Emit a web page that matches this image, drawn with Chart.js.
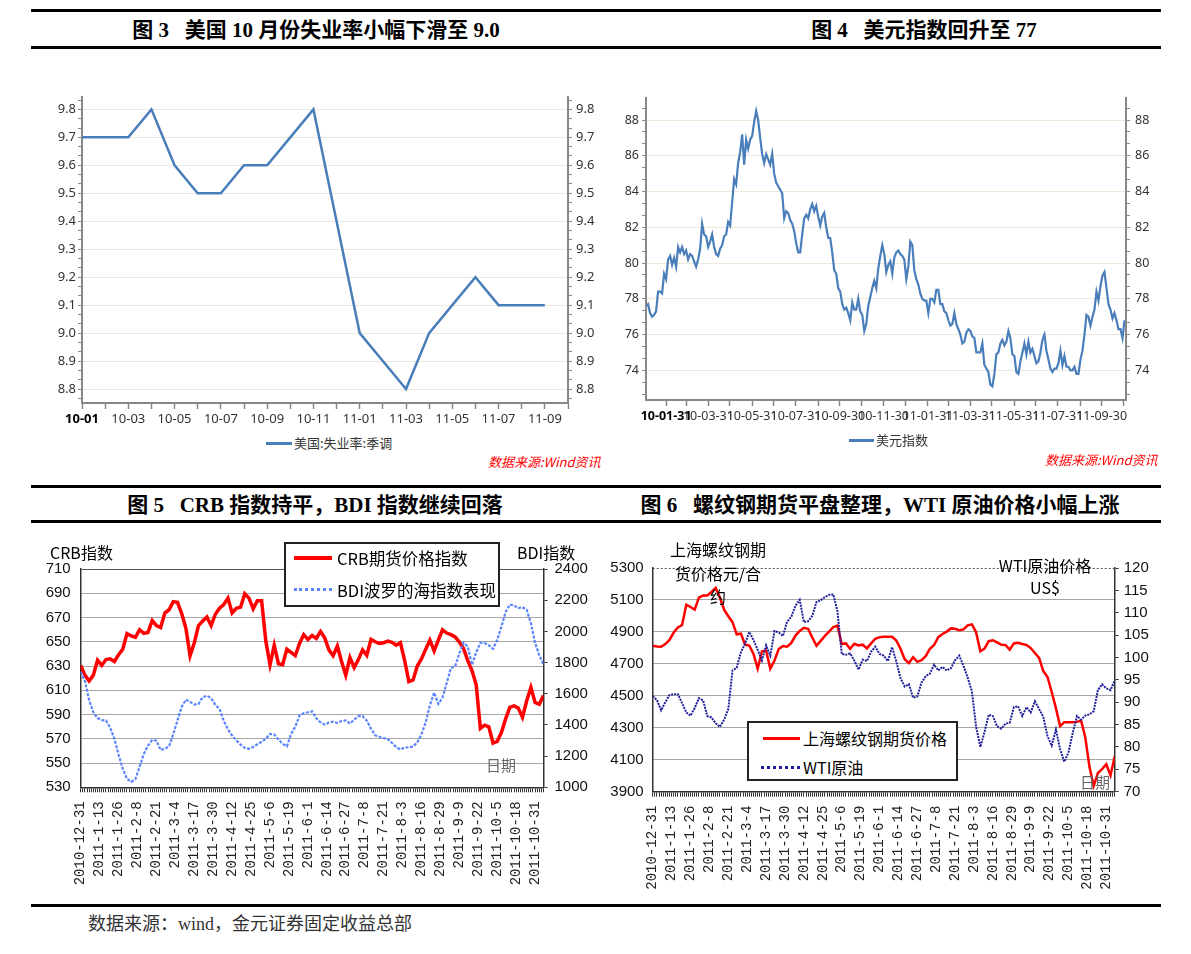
<!DOCTYPE html>
<html>
<head>
<meta charset="utf-8">
<script src="https://cdn.jsdelivr.net/npm/chart.js@4.4.0/dist/chart.umd.min.js"></script>
<style>
  body { margin: 0; background: #fff; }
  #page { position: relative; width: 1191px; height: 954px; overflow: hidden; background: #fff; }
  canvas { position: absolute; }
  .rule { position: absolute; height: 3px; background: #000; }
  .t { position: absolute; white-space: pre; z-index: 5; }
  .title { font: bold 21px "Liberation Serif", "Noto Sans CJK SC", serif; line-height: 24px; transform: translateX(-50%); color: #000; }
  .note { font: 16px "Noto Sans CJK SC", sans-serif; color: #000; line-height: 22px; }
  .box { position: absolute; background: #fff; border: 2px solid #222; z-index: 4; box-sizing: border-box; }
  .src { font: italic 13px "Noto Sans CJK SC", sans-serif; color: #ff0000; line-height: 16px; }
</style>
</head>
<body>
<div id="page">
  <div class="rule" style="left:31px;top:9px;width:1130px"></div>
  <div class="rule" style="left:31px;top:45.5px;width:1130px"></div>
  <div class="rule" style="left:31px;top:484.5px;width:1130px"></div>
  <div class="rule" style="left:31px;top:519.5px;width:1130px"></div>
  <div class="rule" style="left:31px;top:903.5px;width:1130px"></div>

  <div class="t title" style="left:316px;top:18px">图 3   美国 10 月份失业率小幅下滑至 9.0</div>
  <div class="t title" style="left:924px;top:18px">图 4   美元指数回升至 77</div>
  <div class="t title" style="left:315px;top:493px">图 5   CRB 指数持平，BDI 指数继续回落</div>
  <div class="t title" style="left:880px;top:493px">图 6   螺纹钢期货平盘整理，WTI 原油价格小幅上涨</div>

  <canvas id="c3" width="580" height="345" style="left:30px;top:85px"></canvas>
  <canvas id="c4" width="570" height="345" style="left:600px;top:85px"></canvas>
  <canvas id="c5" width="600" height="345" style="left:20px;top:550px"></canvas>
  <canvas id="c6" width="570" height="345" style="left:600px;top:550px"></canvas>

  <!-- chart 3 legend / source -->
  <div class="t" style="left:266px;top:441.5px;width:26px;height:3px;background:#4a7ebb"></div>
  <div class="t" style="left:294px;top:434px;font:13px 'Noto Sans CJK SC',sans-serif;line-height:18px;color:#333">美国:失业率:季调</div>
  <div class="t src" style="left:488px;top:454px">数据来源:Wind资讯</div>

  <!-- chart 4 legend / source -->
  <div class="t" style="left:849px;top:438.5px;width:25px;height:3px;background:#4a7ebb"></div>
  <div class="t" style="left:876px;top:431px;font:13px 'Noto Sans CJK SC',sans-serif;line-height:18px;color:#333">美元指数</div>
  <div class="t src" style="left:1045px;top:452px">数据来源:Wind资讯</div>

  <!-- chart 5 notes -->
  <div class="t note" style="left:50px;top:541px">CRB指数</div>
  <div class="t note" style="left:517px;top:541px">BDI指数</div>
  <div class="t note" style="left:486px;top:754px;color:#666;font-size:15px">日期</div>
  <div class="box" style="left:284px;top:542px;width:216px;height:65px"></div>
  <div class="t" style="left:294px;top:556px;width:38px;height:4px;background:#ff0000"></div>
  <div class="t note" style="left:337px;top:547px;font-size:16.5px">CRB期货价格指数</div>
  <div class="t" style="left:294px;top:588px;width:38px;height:0;border-top:3px dotted #5b84ff"></div>
  <div class="t note" style="left:337px;top:579px;font-size:16.5px">BDI波罗的海指数表现</div>

  <!-- chart 6 notes -->
  <div class="t note" style="left:718px;top:538px;line-height:23.5px;text-align:center;transform:translateX(-50%)">上海螺纹钢期
货价格元/合
约</div>
  <div class="t note" style="left:1045px;top:554px;line-height:22px;text-align:center;transform:translateX(-50%)">WTI原油价格
US$</div>
  <div class="t note" style="left:1080px;top:771px;color:#666;font-size:15px">日期</div>
  <div class="box" style="left:747px;top:721px;width:211px;height:60px"></div>
  <div class="t" style="left:763px;top:736.5px;width:37px;height:3px;background:#ff0000"></div>
  <div class="t note" style="left:803px;top:727px">上海螺纹钢期货价格</div>
  <div class="t" style="left:761px;top:765.5px;width:39px;height:0;border-top:3px dotted #1f1f99"></div>
  <div class="t note" style="left:803px;top:756px">WTI原油</div>

  <div class="t" style="left:88px;top:912px;font:18px 'Liberation Serif','Noto Sans CJK SC',serif;line-height:24px;color:#333">数据来源：wind，金元证券固定收益总部</div>
</div>

<script>
// Figure 3: US unemployment rate, monthly
const unempMonths = ["10-01", "10-02", "10-03", "10-04", "10-05", "10-06", "10-07",
  "10-08", "10-09", "10-10", "10-11", "10-12", "11-01", "11-02", "11-03", "11-04",
  "11-05", "11-06", "11-07", "11-08", "11-09"];
const unempRate = [9.7, 9.7, 9.7, 9.8, 9.6, 9.5, 9.5, 9.6, 9.6, 9.7, 9.8, 9.4,
  9.0, 8.9, 8.8, 9.0, 9.1, 9.2, 9.1, 9.1, 9.1];

// Figure 4: dollar index, x = days since 2010-01-01
const usdTickDays = [30, 58, 89, 119, 150, 180, 211, 242, 272, 303, 333, 364,
  395, 423, 454, 484, 515, 545, 576, 607, 637, 668];
const usdTickLabels = ["10-01-31", "", "10-03-31", "", "10-05-31", "", "10-07-31", "",
  "10-09-30", "", "10-11-30", "", "11-01-31", "", "11-03-31", "", "11-05-31", "",
  "11-07-31", "", "11-09-30", ""];
const usdStartDay = 2.1;
const usdStepDays = 2.79;
const usdIndex = [
  77.6, 77.7, 77.2, 77.0, 77.1, 77.3, 78.4, 78.4, 78.3, 79.4,
  79.1, 80.2, 80.4, 79.9, 80.3, 79.8, 80.9, 80.6, 80.9, 80.5,
  80.7, 80.2, 80.5, 80.4, 80.1, 79.8, 80.2, 80.8, 82.2, 81.6,
  81.5, 80.9, 81.2, 81.6, 80.9, 80.5, 80.4, 80.8, 81.0, 81.5,
  81.6, 82.3, 82.1, 83.4, 84.7, 84.4, 85.6, 86.2, 87.2, 85.5,
  86.9, 86.4, 86.9, 87.1, 87.9, 88.5, 88.0, 87.0, 86.1, 85.6,
  86.1, 85.8, 85.5, 86.1, 85.0, 84.5, 84.3, 84.1, 83.9, 82.5,
  82.9, 82.8, 82.4, 82.2, 81.8, 81.1, 80.6, 80.6, 81.6, 82.5,
  82.7, 82.5, 83.0, 83.3, 82.9, 83.2, 82.6, 82.1, 82.6, 82.8,
  82.0, 81.4, 81.4, 80.6, 79.6, 79.4, 78.6, 78.4, 77.7, 77.4,
  77.5, 77.2, 76.8, 77.8, 77.4, 77.4, 78.0, 77.3, 77.1, 76.2,
  76.6, 77.6, 78.1, 78.6, 79.0, 78.6, 79.7, 80.4, 81.0, 80.5,
  79.5, 79.9, 80.1, 79.4, 80.3, 80.6, 80.7, 80.5, 80.4, 80.2,
  79.1, 79.8, 81.2, 81.0, 79.6, 79.1, 78.8, 78.3, 78.0, 77.9,
  77.9, 77.2, 78.0, 78.0, 77.8, 78.5, 78.5, 77.7, 77.7, 77.3,
  77.2, 76.8, 76.5, 76.6, 77.2, 76.6, 76.3, 76.0, 75.5, 75.6,
  76.1, 76.3, 76.2, 75.9, 75.8, 75.0, 75.0, 75.0, 75.5, 74.3,
  74.1, 73.9, 73.2, 73.1, 73.8, 74.9, 75.0, 75.5, 75.7, 75.4,
  75.6, 76.2, 75.8, 74.9, 74.8, 73.9, 73.8, 74.5, 75.0, 75.5,
  74.9, 75.6, 75.0, 75.2, 74.8, 74.4, 74.5, 75.0, 75.7, 76.0,
  75.1, 74.6, 74.1, 73.9, 74.1, 74.1, 74.4, 75.1, 74.3, 74.8,
  74.2, 74.2, 74.0, 74.0, 74.2, 73.8, 73.8, 74.6, 75.1, 76.0,
  77.1, 77.0, 76.5, 77.0, 77.4, 78.4, 77.9, 78.7, 79.3, 79.5,
  78.6, 77.7, 77.4, 76.9, 77.2, 76.8, 76.3, 76.3, 75.8, 76.8
];

// Figures 5 and 6: trading-day axis, one value read every 2 trading days
const dateLabels = ["2010-12-31", "2011-1-13", "2011-1-26", "2011-2-8", "2011-2-21",
  "2011-3-4", "2011-3-17", "2011-3-30", "2011-4-12", "2011-4-25", "2011-5-6",
  "2011-5-19", "2011-6-1", "2011-6-14", "2011-6-27", "2011-7-8", "2011-7-21",
  "2011-8-3", "2011-8-16", "2011-8-29", "2011-9-9", "2011-9-22", "2011-10-5",
  "2011-10-18", "2011-10-31"];
const labelEvery = 9;
const dayStep = 2;
const lastDay = 220;

const crbIndex = [
  630.5, 622.5, 617.7, 622.5, 634.8, 630.5, 635.3, 635.9, 633.7, 639.3,
  643.9, 656.7, 654.8, 653.7, 659.9, 657.0, 657.7, 667.6, 663.3, 661.7,
  673.7, 676.4, 683.1, 682.5, 673.2, 661.2, 638.5, 649.2, 663.3, 667.1,
  670.5, 663.3, 672.7, 677.7, 680.7, 686.0, 673.7, 677.5, 678.5, 689.7,
  686.0, 677.2, 683.9, 683.9, 650.5, 631.1, 647.1, 631.9, 631.1, 643.9,
  641.2, 638.5, 648.4, 655.9, 651.9, 655.1, 652.7, 658.5, 653.2, 643.3,
  638.5, 646.5, 633.7, 622.5, 636.9, 628.7, 635.3, 643.3, 638.8, 651.9,
  650.0, 648.7, 649.2, 650.5, 649.5, 647.1, 649.2, 634.5, 617.2, 618.5,
  630.0, 635.9, 643.9, 651.3, 642.5, 651.3, 659.9, 657.2, 655.9, 654.0,
  649.7, 644.4, 634.5, 626.3, 614.5, 578.5, 581.2, 579.9, 566.5, 567.9,
  575.1, 586.5, 595.9, 597.2, 595.3, 587.8, 601.2, 612.4, 599.9, 598.5,
  605.7
];
const bdiIndex = [
  1740, 1682, 1558, 1481, 1444, 1431, 1429, 1382, 1311, 1210,
  1118, 1054, 1035, 1052, 1133, 1214, 1268, 1303, 1299, 1239,
  1247, 1263, 1340, 1429, 1516, 1562, 1548, 1531, 1535, 1577,
  1587, 1572, 1529, 1502, 1425, 1371, 1332, 1301, 1274, 1253,
  1247, 1259, 1276, 1292, 1311, 1342, 1338, 1307, 1278, 1263,
  1342, 1388, 1460, 1475, 1481, 1487, 1442, 1417, 1402, 1415,
  1421, 1413, 1425, 1429, 1409, 1434, 1456, 1456, 1427, 1375,
  1334, 1324, 1315, 1309, 1284, 1257, 1243, 1255, 1257, 1261,
  1288, 1340, 1417, 1525, 1608, 1535, 1575, 1670, 1765, 1776,
  1859, 1927, 1902, 1786, 1865, 1927, 1925, 1911, 1888, 1946,
  2031, 2124, 2172, 2166, 2149, 2155, 2139, 2052, 1927, 1848,
  1786
];
const rebarPrice = [
  4813, 4809, 4807, 4824, 4850, 4896, 4928, 4943, 5070, 5056,
  5039, 5115, 5128, 5128, 5150, 5175, 5115, 5039, 4998, 4961,
  4885, 4889, 4820, 4815, 4762, 4670, 4777, 4783, 4670, 4721,
  4793, 4811, 4807, 4831, 4877, 4906, 4926, 4920, 4865, 4813,
  4844, 4875, 4902, 4930, 4939, 4824, 4828, 4795, 4826, 4815,
  4820, 4797, 4828, 4857, 4867, 4869, 4869, 4869, 4846, 4795,
  4729, 4705, 4742, 4713, 4723, 4748, 4795, 4818, 4867, 4887,
  4902, 4922, 4920, 4910, 4916, 4941, 4947, 4898, 4779, 4795,
  4842, 4848, 4834, 4820, 4818, 4789, 4828, 4832, 4824, 4818,
  4799, 4768, 4737, 4655, 4618, 4524, 4423, 4310, 4335, 4335,
  4335, 4337, 4345, 4239, 4054, 3937, 4017, 4041, 4072, 4002,
  4120
];
const wtiPrice = [
  91.4, 90.5, 88.2, 90.0, 91.6, 91.8, 91.8, 89.8, 87.7, 87.0,
  88.7, 90.9, 90.4, 86.9, 86.6, 85.3, 84.5, 86.1, 88.5, 97.1,
  97.7, 101.2, 103.1, 105.7, 103.9, 101.7, 99.3, 102.7, 100.4, 105.9,
  105.6, 104.8, 108.0, 109.1, 111.6, 112.9, 107.9, 108.1, 109.3, 112.4,
  112.8, 113.5, 114.0, 114.1, 110.3, 100.8, 100.6, 100.9, 99.3, 97.3,
  99.5, 99.2, 101.3, 102.4, 100.8, 100.4, 99.2, 102.3, 99.1, 95.4,
  93.5, 94.0, 91.0, 91.3, 94.4, 95.8, 96.4, 98.4, 97.1, 97.9,
  97.1, 97.6, 99.4, 100.4, 98.1, 95.5, 92.4, 84.5, 80.0, 83.3,
  87.2, 86.9, 84.6, 84.1, 85.2, 85.4, 88.9, 89.1, 86.9, 88.9,
  87.7, 90.2, 88.5, 86.7, 82.4, 80.3, 83.9, 79.5, 76.7, 78.8,
  83.1, 86.9, 86.1, 87.0, 87.3, 88.0, 92.7, 94.0, 93.1, 92.7,
  94.8
];

// ---- helpers ----
const fixW = w => s => { s.width = w; };
const fixH = h => s => { s.height = h; };
const toXY = (vals, x0, dx) => vals.map((v, i) => ({ x: x0 + i * dx, y: v }));
const plain = v => String(v);
const base = {
  responsive: false,
  animation: false,
  events: [],
  plugins: { legend: { display: false }, tooltip: { enabled: false } }
};
const excelFont = { family: "'Noto Sans', 'Liberation Sans', sans-serif", size: 13 };
const narrowFont = { family: "'Liberation Sans Narrow', 'Liberation Sans', sans-serif", size: 15 };
const monoFont = { family: "'Liberation Mono', 'DejaVu Sans Mono', monospace", size: 14 };

// ---- Figure 3 ----
const isTenth = n => n % 3 === 0; // n/30 is a multiple of 0.1
const unempTicks = s => {
  s.ticks = [];
  for (let n = 263; n <= 295; n++) s.ticks.push({ value: n / 30 });
};
const unempY = (pos, w) => ({
  position: pos,
  min: 8.75,
  max: 9.845,
  afterFit: fixW(w),
  afterBuildTicks: unempTicks,
  ticks: {
    autoSkip: false,
    padding: pos === "left" ? 2 : 4,
    color: "#333",
    font: excelFont,
    callback: v => isTenth(Math.round(v * 30)) ? v.toFixed(1) : ""
  },
  grid: {
    drawOnChartArea: pos === "left",
    color: c => isTenth(Math.round(c.tick.value * 30)) ? "#ebe9d9" : "rgba(0,0,0,0)",
    tickColor: "#888",
    tickLength: 4
  },
  border: { color: "#888", width: 2 }
});

new Chart(document.getElementById("c3"), {
  type: "line",
  data: {
    datasets: [{
      label: "美国:失业率:季调",
      data: toXY(unempRate, 0, 1),
      borderColor: "#4a7ebb",
      borderWidth: 2.5,
      pointRadius: 0,
      tension: 0
    }]
  },
  options: {
    ...base,
    layout: { padding: { top: 11.7, left: 0, right: 0, bottom: 0 } },
    scales: {
      x: {
        type: "linear",
        min: 0,
        max: 21,
        afterFit: fixH(27),
        afterBuildTicks: s => {
          s.ticks = [];
          for (let i = 0; i <= 21; i++) s.ticks.push({ value: i });
        },
        ticks: {
          autoSkip: false,
          maxRotation: 0,
          padding: 2,
          color: c => c.index === 0 ? "#000" : "#333",
          font: c => ({ ...excelFont, weight: c.index === 0 ? "bold" : "normal" }),
          callback: (v, i) => (i % 2 === 0 && i < unempMonths.length) ? unempMonths[i] : ""
        },
        grid: { drawOnChartArea: false, tickLength: 6, tickColor: "#888", tickWidth: 1.5 },
        border: { color: "#888", width: 2 }
      },
      y: unempY("left", 52),
      y2: unempY("right", 42)
    }
  }
});

// ---- Figure 4 ----
const usdY = (pos, w) => ({
  position: pos,
  min: 72.34,
  max: 89.26,
  afterFit: fixW(w),
  afterBuildTicks: s => {
    s.ticks = [];
    for (let n = 109; n <= 133; n++) s.ticks.push({ value: n * 2 / 3 });
  },
  ticks: {
    autoSkip: false,
    padding: pos === "left" ? 3 : 5,
    color: "#333",
    font: { ...excelFont, size: 12.5 },
    callback: v => isTenth(Math.round(v * 1.5)) ? String(Math.round(v)) : ""
  },
  grid: {
    drawOnChartArea: pos === "left",
    color: c => isTenth(Math.round(c.tick.value * 1.5)) ? "#ebe9d9" : "rgba(0,0,0,0)",
    tickColor: "#888",
    tickLength: 4
  },
  border: { color: "#888", width: 2 }
});

new Chart(document.getElementById("c4"), {
  type: "line",
  data: {
    datasets: [{
      label: "美元指数",
      data: toXY(usdIndex, usdStartDay, usdStepDays),
      borderColor: "#4a7ebb",
      borderWidth: 2.2,
      pointRadius: 0,
      tension: 0
    }]
  },
  options: {
    ...base,
    layout: { padding: { top: 11.7, left: 0, right: 0, bottom: 0 } },
    scales: {
      x: {
        type: "linear",
        min: 2,
        max: 671,
        afterFit: fixH(30),
        afterBuildTicks: s => { s.ticks = usdTickDays.map(d => ({ value: d })); },
        ticks: {
          autoSkip: false,
          maxRotation: 0,
          padding: 3,
          color: c => c.index === 0 ? "#000" : "#333",
          font: c => ({ ...excelFont, size: 12.5, weight: c.index === 0 ? "bold" : "normal" }),
          callback: (v, i) => usdTickLabels[i]
        },
        grid: { drawOnChartArea: false, tickLength: 6, tickColor: "#888", tickWidth: 1.5 },
        border: { color: "#888", width: 2 }
      },
      y: usdY("left", 46),
      y2: usdY("right", 44)
    }
  }
});

// ---- Figures 5 and 6: shared x axis ----
const tradeX = h => ({
  type: "linear",
  min: 0,
  max: lastDay,
  afterFit: fixH(h),
  afterBuildTicks: s => {
    s.ticks = [];
    for (let i = 0; i <= lastDay; i++) s.ticks.push({ value: i });
  },
  ticks: {
    autoSkip: false,
    minRotation: 90,
    maxRotation: 90,
    padding: 9,
    color: "#222",
    font: monoFont,
    callback: (v, i) => (i % labelEvery === 0) ? (dateLabels[i / labelEvery] || "") : ""
  },
  grid: { drawOnChartArea: false, tickLength: 5, tickColor: "#333", tickWidth: 1 },
  border: { color: "#333", width: 1.5 }
});

const dottedTop = {
  id: "dottedTop",
  afterDraw(chart) {
    const { ctx, chartArea: a } = chart;
    ctx.save();
    ctx.strokeStyle = "#555";
    ctx.lineWidth = 1;
    ctx.setLineDash([2, 2]);
    ctx.beginPath();
    ctx.moveTo(a.left, a.top + 0.5);
    ctx.lineTo(a.right, a.top + 0.5);
    ctx.stroke();
    ctx.restore();
  }
};

// ---- Figure 5 ----
new Chart(document.getElementById("c5"), {
  type: "line",
  data: {
    datasets: [
      {
        label: "CRB期货价格指数",
        data: toXY(crbIndex, 0, dayStep),
        borderColor: "#ff0000",
        borderWidth: 3.5,
        pointRadius: 0,
        tension: 0,
        order: 1
      },
      {
        label: "BDI波罗的海指数表现",
        data: toXY(bdiIndex, 0, dayStep),
        yAxisID: "y2",
        borderColor: "#5b84ff",
        borderWidth: 2.2,
        borderDash: [3, 1.5],
        pointRadius: 0,
        tension: 0,
        order: 0
      }
    ]
  },
  options: {
    ...base,
    layout: { padding: { top: 12.3, left: 0, right: 0, bottom: 0 } },
    scales: {
      x: tradeX(107.7),
      y: {
        position: "left",
        min: 530,
        max: 710,
        afterFit: fixW(60.7),
        ticks: { stepSize: 20, padding: 10, color: "#111", font: narrowFont, callback: plain },
        grid: {
          drawTicks: false,
          color: c => c.tick.value === 710 ? "#555" : "#a6a6a6"
        },
        border: { color: "#333", width: 1.5 }
      },
      y2: {
        position: "right",
        min: 1000,
        max: 2400,
        afterFit: fixW(76.5),
        ticks: { stepSize: 200, padding: 7, color: "#111", font: narrowFont, callback: plain },
        grid: { drawOnChartArea: false, tickLength: 4, tickColor: "#333" },
        border: { color: "#333", width: 1.5 }
      }
    }
  }
});

// ---- Figure 6 ----
new Chart(document.getElementById("c6"), {
  type: "line",
  data: {
    datasets: [
      {
        label: "上海螺纹钢期货价格",
        data: toXY(rebarPrice, 0, dayStep),
        borderColor: "#ff0000",
        borderWidth: 2.5,
        pointRadius: 0,
        tension: 0,
        order: 1
      },
      {
        label: "WTI原油",
        data: toXY(wtiPrice, 0, dayStep),
        yAxisID: "y2",
        borderColor: "#1f1f99",
        borderWidth: 2,
        borderDash: [2, 1],
        pointRadius: 0,
        tension: 0,
        order: 0
      }
    ]
  },
  options: {
    ...base,
    layout: { padding: { top: 14.3, left: 0, right: 0, bottom: 0 } },
    scales: {
      x: tradeX(103.3),
      y: {
        position: "left",
        min: 3900,
        max: 5300,
        afterFit: fixW(52.7),
        ticks: { stepSize: 200, padding: 9, color: "#111", font: narrowFont, callback: plain },
        grid: {
          drawTicks: false,
          color: c => c.tick.value === 5300 ? "rgba(0,0,0,0)" : "#a6a6a6"
        },
        border: { color: "#333", width: 1.5 }
      },
      y2: {
        position: "right",
        min: 70,
        max: 120,
        afterFit: fixW(55.3),
        ticks: { stepSize: 5, padding: 5, color: "#111", font: narrowFont, callback: plain },
        grid: { drawOnChartArea: false, tickLength: 4, tickColor: "#333" },
        border: { color: "#333", width: 1.5 }
      }
    }
  },
  plugins: [dottedTop]
});
</script>
</body>
</html>
